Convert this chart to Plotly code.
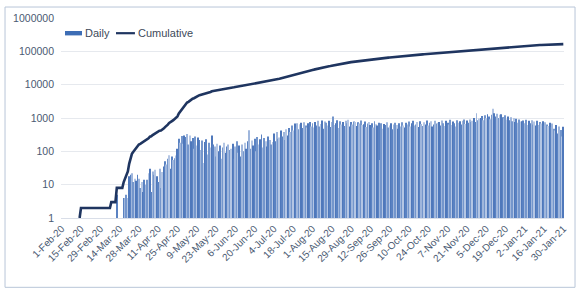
import datetime as dt
import numpy as np
import plotly.graph_objects as go

start = dt.date(2020, 2, 1)

daily_feb = [0,0,0,0,0,0,0,0,0,0,0,0,0,1,1,0,0,0,0,0,0,0,0,0,0,0,0,0,0]
daily_mar = [0,0,0,0,0,0,0,1,0,0,0,5,0,0,0,0,
             4,4,5,4,18,20,22,12,15,13,20,15,8,12,6]
daily_apr = [14,10,14,22,30,6,25,20,28,18,12,30,8,24,35,50,40,60,76,30,
             70,55,62,75,120,240,180,290,170,300]
daily_may = [270,330,160,300,200,250,120,280,150,260,220,
             110,210,45,190,230,80,180,130,300,160,
             140,70,170,100,150,60,130,180,90,140]
daily_jun = [160,110,120,170,60,140,200,90,150,70,160,100,180,120,
             200,430,120,210,150,240,100,270,160,230,320,130,250,200,140,280]
daily_jul = [220,160,190,340,200,380,240,260,420,280,380,220,460,300,500,380,
             600,420,680,520,700,460,650,720,500,750,600,520,700,760,560]
daily_aug = [700,520,760,600,820,560,660,840,480,780,720,600,820,540,760,
             1100,620,690,860,500,800,640,760,580,820,700,880,560,760,640,790]
daily_sep = [760,580,740,680,840,620,650,780,540,680,760,620,700,520,800,
             650,600,720,55,700,480,660,620,740,520,600,700,460,640,720]
daily_oct = [620,480,700,560,740,600,520,720,640,780,560,700,820,600,640,
             760,540,800,660,580,740,640,840,600,720,800,560,640,820,680,720]
daily_nov = [760,600,840,700,580,820,720,640,880,620,780,700,560,860,720,
             800,640,820,900,660,840,720,900,760,820,1000,760,1400,860,960]
daily_dec = [1000,1150,860,1200,980,1300,1100,920,1250,1900,1400,1100,1350,1000,1250,
             1300,1050,980,1200,900,1100,850,1050,800,1000,760,950,720,900,780,800]
daily_jan = [840,700,880,620,820,700,860,640,780,600,820,620,760,680,800,
             600,740,640,580,720,540,680,480,420,620,340,560,440,280,550]

daily = (daily_feb + daily_mar + daily_apr + daily_may + daily_jun + daily_jul +
         daily_aug + daily_sep + daily_oct + daily_nov + daily_dec + daily_jan)
dates = [start + dt.timedelta(days=i) for i in range(len(daily))]
cumulative = np.cumsum(daily)

tick_labels = ["1-Feb-20","15-Feb-20","29-Feb-20","14-Mar-20","28-Mar-20","11-Apr-20",
               "25-Apr-20","9-May-20","23-May-20","6-Jun-20","20-Jun-20","4-Jul-20",
               "18-Jul-20","1-Aug-20","15-Aug-20","29-Aug-20","12-Sep-20","26-Sep-20",
               "10-Oct-20","24-Oct-20","7-Nov-20","21-Nov-20","5-Dec-20","19-Dec-20",
               "2-Jan-21","16-Jan-21","30-Jan-21"]
tick_dates = [start + dt.timedelta(days=14 * i) for i in range(len(tick_labels))]

y_ticks = [1, 10, 100, 1000, 10000, 100000, 1000000]
y_labels = ["1", "10", "100", "1000", "10000", "100000", "1000000"]

series_names = ["Daily", "Cumulative"]
bar_shades = ["#5a82c2", "#9fb6dc", "#7496cc", "#b4c6e4", "#4f78bb"]
line_color = "#1f3560"

daily_plot = [v if v > 0 else None for v in daily]
cum_plot = [float(v) if v > 0 else None for v in cumulative]
bar_colors = [bar_shades[i % len(bar_shades)] for i in range(len(daily))]

fig = go.Figure()
fig.add_trace(go.Bar(x=dates, y=daily_plot, name=series_names[0], showlegend=False,
                     marker=dict(color=bar_colors, line=dict(width=0))))
fig.add_trace(go.Scatter(x=dates, y=cum_plot, name=series_names[1], mode="lines",
                         showlegend=False, line=dict(color=line_color, width=2.6)))

font_col = "#4a5a72"
fig.update_layout(
    width=576, height=291,
    margin=dict(l=61, r=12, t=18, b=72.5),
    paper_bgcolor="white", plot_bgcolor="white",
    bargap=0.3,
    showlegend=False,
    font=dict(family="Liberation Sans, Arial", size=10, color=font_col),
)
fig.update_xaxes(
    type="date",
    range=[dt.datetime(2020, 1, 31, 12), dt.datetime(2021, 1, 30, 12)],
    tickvals=tick_dates, ticktext=tick_labels, tickangle=-45,
    showgrid=False, showline=True, linecolor="#d9dee8", linewidth=1,
    ticks="", tickfont=dict(size=10, color=font_col), automargin=False,
)
fig.update_yaxes(
    type="log", range=[0, 6],
    tickvals=y_ticks, ticktext=y_labels,
    showgrid=True, gridcolor="#e6e9ee", gridwidth=1,
    zeroline=False, showline=False, ticks="", ticklabelstandoff=6,
    tickfont=dict(size=10.5, color=font_col), automargin=False,
)
# legend drawn manually (wide flat swatches like the original)
fig.add_shape(type="rect", xref="paper", yref="paper",
              x0=0.008, x1=0.0417, y0=0.913, y1=0.935,
              line=dict(width=0), fillcolor="#3d6db5")
fig.add_annotation(xref="paper", yref="paper", x=0.0437, y=0.924,
                   text=series_names[0], showarrow=False, xanchor="left", yanchor="middle",
                   font=dict(family="Liberation Sans, Arial", size=11, color="#404a5a"))
fig.add_shape(type="line", xref="paper", yref="paper",
              x0=0.1093, x1=0.147, y0=0.924, y1=0.924,
              line=dict(color=line_color, width=2.2))
fig.add_annotation(xref="paper", yref="paper", x=0.149, y=0.924,
                   text=series_names[1], showarrow=False, xanchor="left", yanchor="middle",
                   font=dict(family="Liberation Sans, Arial", size=11, color="#404a5a"))
# outer frame
fig.add_shape(type="rect", xref="paper", yref="paper",
              x0=-0.1113, x1=1.0219, y0=-0.3466, y1=1.0549,
              line=dict(color="#b8c6d8", width=1), fillcolor="rgba(0,0,0,0)")

fig.write_html("out.html", config={"displayModeBar": False},
               post_script="document.body.style.margin='0';document.body.style.overflow='hidden';")
